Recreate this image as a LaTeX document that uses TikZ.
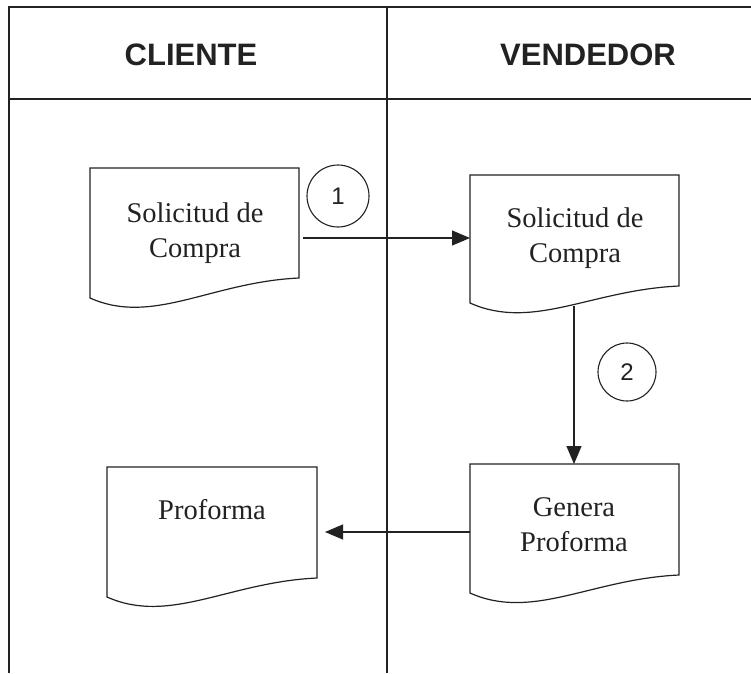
\documentclass[tikz,border=0pt]{standalone}
\usepackage{fontspec}
\setmainfont{Liberation Serif}
\newfontfamily\hdrfont{Liberation Sans}
\usetikzlibrary{arrows.meta,calc}
\definecolor{ink}{HTML}{222222}
\tikzset{
  frameline/.style={draw=ink, line width=1.4pt},
  docline/.style={draw=ink, line width=1.2pt, line join=miter},
  docarea/.style={rectangle, draw=none, inner sep=0pt, outer sep=0pt},
  doctext/.style={font=\fontsize{28.5}{35}\selectfont, align=center, inner sep=0pt, text=ink},
  hdrtext/.style={font=\hdrfont\bfseries\fontsize{31}{36}\selectfont, inner sep=0pt, text=ink},
  numcircle/.style={circle, draw=ink, line width=1.1pt, minimum size=#1, inner sep=0pt, font=\hdrfont\fontsize{24}{26}\selectfont, text=ink},
  arr/.style={draw=ink, line width=1.1pt, -{Triangle[length=18pt,width=15pt]}},
}
\newcommand{\docdraw}[6]{%
  \pgfmathsetmacro{\dw}{#4-#2}%
  \pgfmathsetmacro{\dh}{#5-#3}%
  \pgfmathsetmacro{\cxa}{#2+0.3*\dw}%
  \pgfmathsetmacro{\cya}{#6+28}%
  \pgfmathsetmacro{\cxb}{#2+0.58*\dw}%
  \pgfmathsetmacro{\cyb}{#5+4}%
  \node[docarea, minimum width=\dw pt, minimum height=\dh pt, anchor=north west] (#1) at (#2,#3) {};
  \draw[docline] (#1.north west) -- (#2,#6) .. controls (\cxa,\cya) and (\cxb,\cyb) .. (#1.south east) -- (#1.north east) -- cycle;
}
\begin{document}
\begin{tikzpicture}[x=1pt,y=-1pt]
\useasboundingbox (0,0) rectangle (751,673);
\fill[white] (0,0) rectangle (751,673);

% frame
\coordinate (ftl) at (9,7);
\coordinate (ftr) at (751,7);
\coordinate (fbl) at (9,673);
\coordinate (hl) at (9,99);
\coordinate (hr) at (751,99);
\coordinate (dt) at (387,7);
\coordinate (db) at (387,673);
\draw[frameline] (ftr) -- (ftl) -- (fbl);
\draw[frameline] (hl) -- (hr);
\draw[frameline] (dt) -- (db);

% headers
\node[hdrtext, anchor=base] (hcli) at (191,65) {CLIENTE};
\node[hdrtext, anchor=base] (hven) at (588,65) {VENDEDOR};

% documents
\docdraw{d1}{90}{168}{299}{278}{298}
\docdraw{d2}{470}{175}{679}{286}{303}
\docdraw{d3}{470}{464}{679}{575}{593}
\docdraw{d4}{107}{467}{317}{578}{597}

\node[doctext] (t1) at (195,233) {Solicitud de\\Compra};
\node[doctext] (t2) at (575,238) {Solicitud de\\Compra};
\node[doctext] (t3) at (574,524.5) {Genera\\Proforma};
\node[doctext, anchor=base] (t4) at (212,519) {Proforma};

% numbered circles
\node[numcircle=62pt] (c1) at (338,196) {1};
\node[numcircle=58pt] (c2) at (627,372) {2};

% connectors
\coordinate (a1s) at (303,238);
\draw[arr] (a1s) -- (d2.west |- a1s);
\coordinate (a2s) at (574,306);
\draw[arr] (a2s) -- (a2s |- d3.north);
\coordinate (a3e) at (325,532);
\draw[arr] (d3.west |- a3e) -- (a3e);
\end{tikzpicture}
\end{document}
